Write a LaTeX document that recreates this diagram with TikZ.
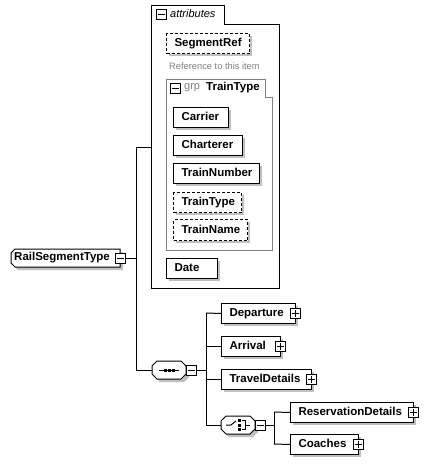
\documentclass[tikz,border=0pt]{standalone}
\usepackage{fontspec}
\setmainfont{Liberation Sans}
\tikzset{
  ebox/.style={draw, fill=white, line width=1pt, inner xsep=8pt, inner ysep=0pt, anchor=north west, align=left,
    font=\bfseries\fontsize{11.5}{13}\selectfont, text height=8.5pt, text depth=2pt},
  optbox/.style={dash pattern=on 3pt off 2pt},
  pm/.style={draw, fill=white, line width=1pt, minimum size=10pt, inner sep=0pt},
  conn/.style={line width=1pt},
  shadowc/.style={fill=black!25},
  lbl/.style={anchor=west, inner sep=0pt, font=\fontsize{11}{13}\selectfont},
}
\newcommand\elembox[7][]{%
  \fill[shadowc] (#3+3,#4+3) rectangle (#5+3,#6+3);
  \pgfmathsetmacro\tw{#5-#3-16}%
  \pgfmathsetmacro\bh{#6-#4}%
  \node[ebox,#1,text width=\tw pt,minimum height=\bh pt] (#2) at (#3,#4) {#7};
}
\newcommand\pmicon[4]{%
  \node[pm] (#1) at (#2,#3) {};
  \draw[line width=1pt] ([xshift=2pt]#1.west) -- ([xshift=-2pt]#1.east);
  \ifx+#4 \draw[line width=1pt] ([yshift=-2pt]#1.north) -- ([yshift=2pt]#1.south);\fi
}
\begin{document}
\begin{tikzpicture}[x=1pt,y=-1pt]
\useasboundingbox (0,0) rectangle (427,464);
\fill[white] (0,0) rectangle (427,464);

% attributes group
\draw[line width=1pt, fill=white] (151,5) -- (224,5) -- (224,24) -- (279,24) -- (279,288) -- (151,288) -- cycle;
\pmicon{attrm}{161}{14}{-}
\node[lbl, font=\itshape\fontsize{11}{13}\selectfont] (attrlbl) at (170,14) {attributes};
\coordinate (attrw) at (151,147);

\elembox[optbox]{segref}{166}{33}{249}{53}{SegmentRef}
\node[lbl, text=black!50, font=\fontsize{9.3}{11}\selectfont] (segrefdoc) at (169,66) {Reference to this item};

% group TrainType
\draw[line width=1pt, draw=black!50] (166,79) -- (265,79) -- (265,97) -- (272,97) -- (272,250) -- (166,250) -- cycle;
\pmicon{grpm}{175}{88}{-}
\node[lbl, text=black!50] (grplbl) at (184,88) {grp};
\node[lbl, font=\bfseries\fontsize{11.5}{13}\selectfont] (grpname) at (206,88) {TrainType};

\elembox{carrier}{173}{107}{228}{127}{Carrier}
\elembox{charterer}{173}{135}{242}{155}{Charterer}
\elembox{trainnumber}{173}{163}{259}{183}{TrainNumber}
\elembox[optbox]{traintype}{173}{192}{241}{212}{TrainType}
\elembox[optbox]{trainname}{173}{219}{247}{240}{TrainName}
\elembox{date}{166}{258}{217}{278}{Date}

% root element
\fill[shadowc] (18,252) -- (123,252) -- (123,270) -- (18,270) -- (14,266) -- (14,256) -- cycle;
\draw[line width=1pt, fill=white] (15,249) -- (120,249) -- (120,267) -- (15,267) -- (11,263) -- (11,253) -- cycle;
\node[lbl, font=\bfseries\fontsize{11.5}{13}\selectfont] (rst) at (14,258) {RailSegmentType};
\pmicon{rstm}{120}{258}{-}

% sequence compositor
\fill[shadowc] (160,364) -- (184,364) -- (189,369) -- (189,377) -- (184,382) -- (160,382) -- (155,377) -- (155,369) -- cycle;
\draw[line width=1pt, fill=white] (157,361) -- (181,361) -- (186,366) -- (186,374) -- (181,379) -- (157,379) -- (152,374) -- (152,366) -- cycle;
\node[minimum width=34pt, minimum height=18pt, inner sep=0pt] (seq) at (169,370) {};
\draw[line width=1pt] (159,370) -- (179,370);
\fill (164,369) rectangle (167,372);
\fill (168,369) rectangle (171,372);
\fill (172,369) rectangle (175,372);
\pmicon{seqm}{191}{370}{-}

% connectors root
\coordinate (j1t) at (136,147);
\coordinate (j1b) at (136,370);
\draw[conn] (rstm.east) -- (rstm.east -| j1t);
\draw[conn] (j1t) -- (j1b);
\draw[conn] (j1t) -- (attrw);
\draw[conn] (j1b) -- (seq.west);

% sequence children
\elembox{departure}{221}{303}{295}{323}{Departure}
\pmicon{depp}{295}{313}{+}
\elembox{arrival}{221}{336}{280}{356}{Arrival}
\pmicon{arrp}{280}{346}{+}
\elembox{travel}{221}{369}{311}{389}{TravelDetails}
\pmicon{travp}{311}{379}{+}

% choice compositor
\fill[shadowc] (229,419) -- (253,419) -- (258,424) -- (258,432) -- (253,437) -- (229,437) -- (224,432) -- (224,424) -- cycle;
\draw[line width=1pt, fill=white] (226,416) -- (250,416) -- (255,421) -- (255,429) -- (250,434) -- (226,434) -- (221,429) -- (221,421) -- cycle;
\node[minimum width=34pt, minimum height=18pt, inner sep=0pt] (choice) at (238,425) {};
\draw[line width=1pt] (226,425) -- (231,425) -- (236,421);
\fill (238,419) rectangle (241,422);
\fill (238,423.5) rectangle (241,426.5);
\fill (238,428) rectangle (241,431);
\draw[line width=1pt] (242,420.5) -- (245,420.5) -- (245,429.5) -- (242,429.5);
\draw[line width=1pt] (245,425) -- (250,425);
\pmicon{choicem}{260}{425}{-}

\elembox{resv}{290}{402}{413}{422}{ReservationDetails}
\pmicon{resvp}{413}{412}{+}
\elembox{coaches}{290}{434}{358}{454}{Coaches}
\pmicon{coachp}{358}{444}{+}

% connectors sequence
\coordinate (j2t) at (206,313);
\coordinate (j2b) at (206,425);
\draw[conn] (seqm.east) -- (seqm.east -| j2t);
\draw[conn] (j2t) -- (j2b);
\draw[conn] (j2t) -- (departure.west);
\draw[conn] (arrival.west -| j2t) -- (arrival.west);
\draw[conn] (travel.west -| j2t) -- (travel.west);
\draw[conn] (j2b) -- (choice.west);

% connectors choice
\coordinate (j3t) at (274,412);
\coordinate (j3b) at (274,444);
\draw[conn] (choicem.east) -- (choicem.east -| j3t);
\draw[conn] (j3t) -- (j3b);
\draw[conn] (j3t) -- (resv.west);
\draw[conn] (j3b) -- (coaches.west);
\end{tikzpicture}
\end{document}
